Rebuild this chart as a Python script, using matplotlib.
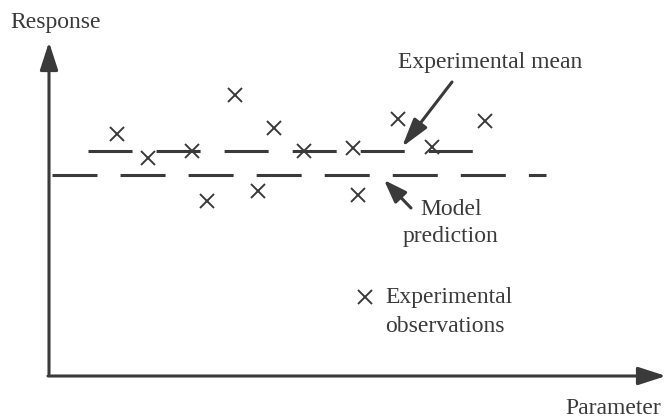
import numpy as np
from matplotlib import pyplot as plt

plt.rcParams['font.family'] = ['Liberation Serif', 'DejaVu Serif']
plt.rcParams['lines.scale_dashes'] = False

# observations (parameter, response)
param = [6.8, 9.9, 14.3, 15.8, 18.6, 20.9, 22.5, 25.5, 30.4, 30.9, 34.9, 38.3, 43.6]
response = [24.1, 21.7, 22.4, 17.4, 28.0, 18.4, 24.7, 22.4, 22.7, 18.0, 25.6, 22.8, 25.4]

exp_mean = 22.4
mean_span = [3.9, 42.4]
model_value = 20.0
model_span = [0.3, 49.7]

ink = '#3a3a3a'
fs = 17

fig = plt.figure(figsize=(6.66, 4.19), dpi=100)
ax = fig.add_axes([0, 0, 1, 1])
ax.axis('off')
ax.set_xlim(-4.9, 61.7)
ax.set_ylim(-4.4, 37.5)

# axes with arrow heads
axis_style = dict(arrowstyle='-|>,head_length=1.7,head_width=0.55',
                  color=ink, lw=2.2, shrinkA=0, shrinkB=0, mutation_scale=10)
ax.annotate('', xy=(0, 33.3), xytext=(0, 0.1), arrowprops=axis_style)
ax.annotate('', xy=(61.7, -0.1), xytext=(-0.1, -0.1), arrowprops=axis_style)

# experimental mean and model prediction as dashed lines
ax.plot(mean_span, [exp_mean, exp_mean], color=ink, lw=2.2,
        linestyle=(0, (31.7, 17.3)), solid_capstyle='butt')
ax.plot(model_span, [model_value, model_value], color=ink, lw=2.2,
        linestyle=(0, (32.4, 16.6)), solid_capstyle='butt')

# observations
ax.plot(param, response, linestyle='none', marker='x', ms=10.5, mew=1.4, color=ink)

# legend entry for the crosses
ax.plot([31.6], [7.8], linestyle='none', marker='x', ms=10.5, mew=1.4, color=ink)
ax.text(33.6, 7.2, 'Experimental', fontsize=fs, color=ink, ha='left', va='baseline')
ax.text(33.6, 4.3, 'observations', fontsize=fs, color=ink, ha='left', va='baseline')

# labels with pointer arrows
ax.annotate('', xy=(35.3, 22.8), xytext=(40.3, 29.3),
            arrowprops=dict(arrowstyle='-|>,head_length=1.75,head_width=0.5',
                            color=ink, lw=2.2, shrinkA=0, shrinkB=0, mutation_scale=10))
ax.text(44.1, 30.7, 'Experimental mean', fontsize=fs, color=ink,
        ha='center', va='baseline')

ax.annotate('', xy=(33.5, 19.5), xytext=(36.2, 16.7),
            arrowprops=dict(arrowstyle='-|>,head_length=1.4,head_width=0.5',
                            color=ink, lw=2.2, shrinkA=0, shrinkB=0, mutation_scale=10))
ax.text(40.2, 16.0, 'Model', fontsize=fs, color=ink, ha='center', va='baseline')
ax.text(40.2, 13.3, 'prediction', fontsize=fs, color=ink, ha='center', va='baseline')

ax.text(-3.9, 35.2, 'Response', fontsize=fs, color=ink, ha='left', va='center')
ax.text(61.2, -3.3, 'Parameter', fontsize=fs, color=ink, ha='right', va='center')

fig.savefig('out.png', dpi=100)
